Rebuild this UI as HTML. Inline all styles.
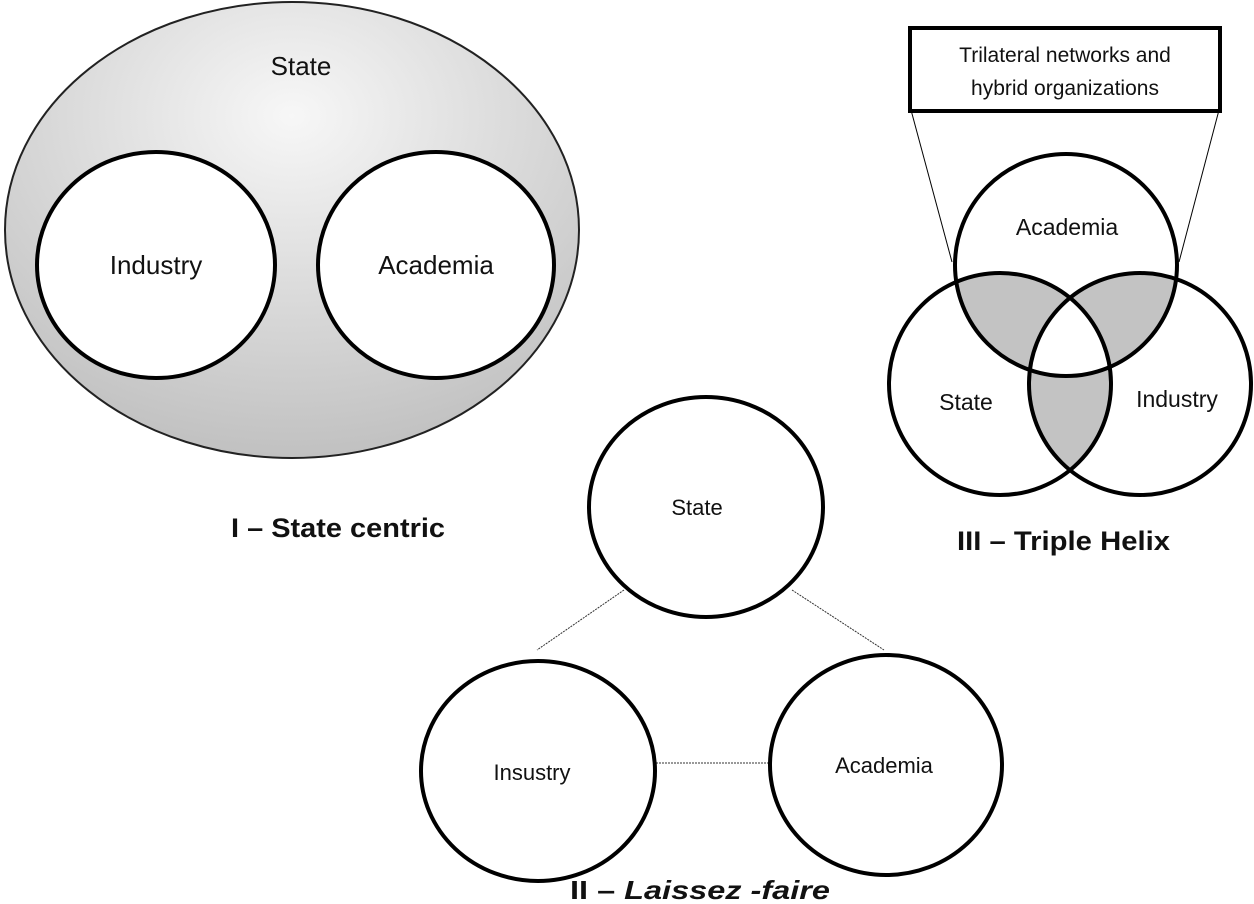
<!DOCTYPE html>
<html><head><meta charset="utf-8"><style>
html,body{margin:0;padding:0;background:#fff;}
svg{display:block;}
text{font-family:"Liberation Sans",sans-serif;fill:#111;}
</style></head><body>
<svg width="1254" height="904" viewBox="0 0 1254 904" xmlns="http://www.w3.org/2000/svg">
<defs>
<radialGradient id="g" cx="0.5" cy="0.25" r="0.8">
<stop offset="0" stop-color="#f7f7f7"/>
<stop offset="1" stop-color="#bdbdbd"/>
</radialGradient>
<clipPath id="cA"><circle cx="1066" cy="265" r="111"/></clipPath>
<clipPath id="cS"><circle cx="1000" cy="384" r="111"/></clipPath>
<clipPath id="cI"><circle cx="1140" cy="384" r="111"/></clipPath>
</defs>
<ellipse cx="292" cy="230" rx="287" ry="228" fill="url(#g)" stroke="#222" stroke-width="2"/>
<ellipse cx="156" cy="265" rx="119" ry="113" fill="#fff" stroke="#000" stroke-width="4"/>
<ellipse cx="436" cy="265" rx="118" ry="113" fill="#fff" stroke="#000" stroke-width="4"/>
<text x="301" y="75" font-size="26" text-anchor="middle">State</text>
<text x="156" y="274" font-size="26" text-anchor="middle">Industry</text>
<text x="436" y="274" font-size="26" text-anchor="middle">Academia</text>
<text x="231" y="537" font-size="27" font-weight="bold" textLength="214" lengthAdjust="spacingAndGlyphs">I – State centric</text>
<line x1="624" y1="590" x2="537" y2="650" stroke="#333" stroke-width="1" stroke-dasharray="2,1"/>
<line x1="792" y1="590" x2="884" y2="650" stroke="#333" stroke-width="1" stroke-dasharray="2,1"/>
<line x1="656" y1="763" x2="769" y2="763" stroke="#333" stroke-width="1" stroke-dasharray="2,1"/>
<ellipse cx="706" cy="507" rx="117" ry="110" fill="#fff" stroke="#000" stroke-width="4"/>
<ellipse cx="538" cy="771" rx="117" ry="110" fill="#fff" stroke="#000" stroke-width="4"/>
<ellipse cx="886" cy="765" rx="116" ry="110" fill="#fff" stroke="#000" stroke-width="4"/>
<text x="697" y="515" font-size="22" text-anchor="middle">State</text>
<text x="532" y="780" font-size="22" text-anchor="middle">Insustry</text>
<text x="884" y="773" font-size="22" text-anchor="middle">Academia</text>
<text x="570" y="899" font-size="26" font-weight="bold" textLength="260" lengthAdjust="spacingAndGlyphs">II – <tspan font-style="italic">Laissez -faire</tspan></text>
<line x1="911" y1="110" x2="952" y2="262" stroke="#000" stroke-width="1"/>
<line x1="1219" y1="110" x2="1179" y2="262" stroke="#000" stroke-width="1"/>
<rect x="910" y="28" width="310" height="83" fill="#fff" stroke="#000" stroke-width="4"/>
<text x="1065" y="62" font-size="21" text-anchor="middle">Trilateral networks and</text>
<text x="1065" y="95" font-size="21" text-anchor="middle">hybrid organizations</text>
<g clip-path="url(#cA)"><circle cx="1000" cy="384" r="111" fill="#c3c3c3"/><circle cx="1140" cy="384" r="111" fill="#c3c3c3"/></g>
<g clip-path="url(#cS)"><circle cx="1140" cy="384" r="111" fill="#c3c3c3"/></g>
<g clip-path="url(#cA)"><g clip-path="url(#cS)"><circle cx="1140" cy="384" r="111" fill="#fff"/></g></g>
<circle cx="1066" cy="265" r="111" fill="none" stroke="#000" stroke-width="4"/>
<circle cx="1000" cy="384" r="111" fill="none" stroke="#000" stroke-width="4"/>
<circle cx="1140" cy="384" r="111" fill="none" stroke="#000" stroke-width="4"/>
<text x="1067" y="235" font-size="23" text-anchor="middle">Academia</text>
<text x="966" y="410" font-size="23" text-anchor="middle">State</text>
<text x="1177" y="407" font-size="23" text-anchor="middle">Industry</text>
<text x="957" y="550" font-size="27" font-weight="bold" textLength="213" lengthAdjust="spacingAndGlyphs">III – Triple Helix</text>
</svg>
</body></html>
